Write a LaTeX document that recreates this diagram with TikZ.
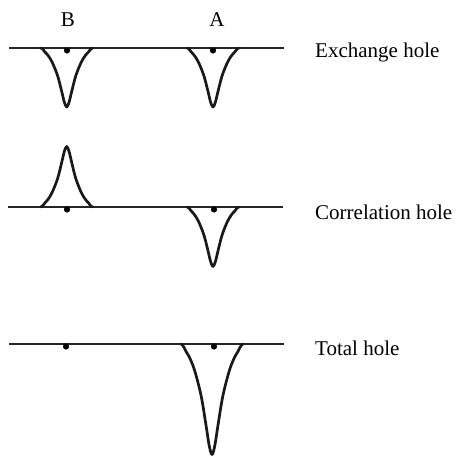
\documentclass[tikz,border=0pt]{standalone}
\usepackage{fontspec}
\setmainfont{Liberation Serif}
\usepackage{tikz}
\usetikzlibrary{positioning}

\begin{document}
\begin{tikzpicture}[
  x=1pt, y=-1pt,
  axis/.style={line width=1.1pt, black!85},
  hole/.style={line width=2.7pt, black!90, line cap=round, line join=round},
  dot/.style={circle, fill=black, inner sep=0pt, minimum size=6.2pt},
  lbl/.style={font=\fontsize{21}{25}\selectfont, inner sep=0pt},
  holename/.style={lbl, anchor=west}
]
  \useasboundingbox (0,0) rectangle (455,457);

  % atom labels
  \node[lbl] (labB) at (68,20) {B};
  \node[lbl] (labA) at (217,20) {A};

  % base lines
  \draw[axis] (9,48) coordinate (ex0) -- (284,48) coordinate (ex1);
  \draw[axis] (8,207) coordinate (co0) -- (283,207) coordinate (co1);
  \draw[axis] (9,344) coordinate (to0) -- (284,344) coordinate (to1);

  % holes: centre / base line / depth / half width
  \foreach \c/\b/\d/\w in {66.7/48/59/26, 213/48/59/26, 66.7/207/-60.5/26,
                           213/207/59.5/26, 212/344/110.5/31}
    \draw[hole, shift={(\c,\b)}, xscale=\w, yscale=\d] plot[smooth, tension=0.55] coordinates {
      (-1,0) (-0.95,0.01) (-0.9,0.032) (-0.84,0.067) (-0.72,0.125) (-0.56,0.24)
      (-0.35,0.47) (-0.185,0.75) (-0.09,0.92) (0,1)
      (0.09,0.92) (0.185,0.75) (0.35,0.47) (0.56,0.24) (0.72,0.125)
      (0.84,0.067) (0.9,0.032) (0.95,0.01) (1,0)};

  % nuclei
  \node[dot] (exB) at (67,50.5) {};
  \node[dot] (exA) at (213,50.5) {};
  \node[dot] (coB) at (67,209.5) {};
  \node[dot] (coA) at (214,209.5) {};
  \node[dot] (toB) at (66,346.5) {};
  \node[dot] (toA) at (214,346.5) {};

  \node[holename] (exname) at (315,52) {Exchange hole};
  \node[holename] (coname) at (315,212) {Correlation hole};
  \node[holename] (toname) at (315,348) {Total hole};
\end{tikzpicture}
\end{document}
